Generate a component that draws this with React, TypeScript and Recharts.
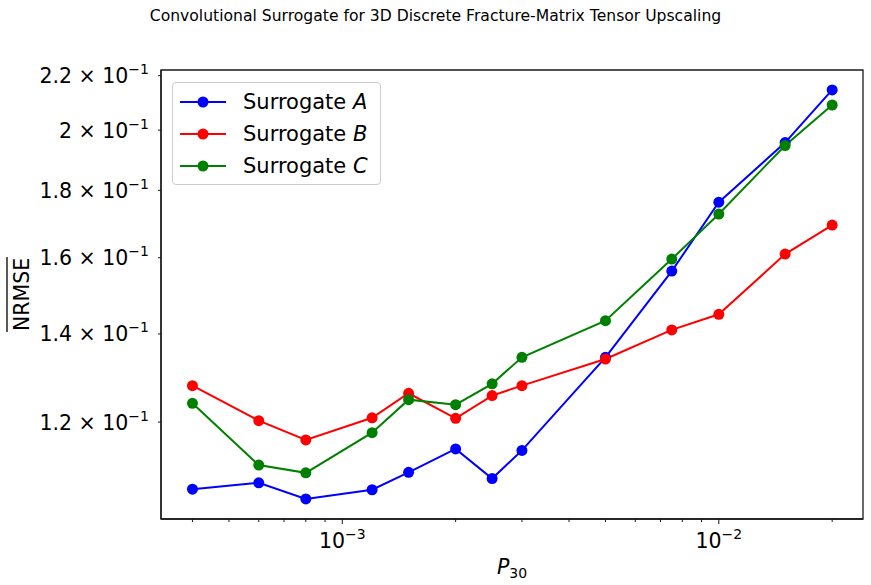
import { LineChart, Line, XAxis, YAxis, Legend, ReferenceArea } from "recharts";

// fracture intensity P30 sampled for each surrogate
const p30Values = [4e-4, 6e-4, 8e-4, 1.2e-3, 1.5e-3, 2e-3, 2.5e-3, 3e-3, 5e-3, 7.5e-3, 1e-2, 1.5e-2, 2e-2];

// mean NRMSE per surrogate
const surrogateA = [0.1067, 0.1079, 0.1049, 0.1066, 0.1099, 0.1145, 0.1087, 0.1142, 0.1344, 0.1563, 0.1763, 0.1957, 0.2146];
const surrogateB = [0.1279, 0.1203, 0.1163, 0.1209, 0.1262, 0.1208, 0.1257, 0.1279, 0.134, 0.141, 0.1449, 0.161, 0.1694];
const surrogateC = [0.124, 0.1113, 0.1098, 0.1178, 0.1248, 0.1237, 0.1283, 0.1344, 0.1433, 0.1596, 0.1727, 0.1947, 0.209];

const xMajorTicks = [1e-3, 1e-2];
const xMinorTicks = [4e-4, 5e-4, 6e-4, 7e-4, 8e-4, 9e-4, 2e-3, 3e-3, 4e-3, 5e-3, 6e-3, 7e-3, 8e-3, 9e-3, 2e-2];
const yTicks = [0.12, 0.14, 0.16, 0.18, 0.2, 0.22];

const xDomain = [3.3e-4, 0.02415];
const yDomain = [0.10128, 0.2222];

const series = [
  { key: "a", letter: "A", color: "#0000ff" },
  { key: "b", letter: "B", color: "#ff0000" },
  { key: "c", letter: "C", color: "#008000" },
];

const data = p30Values.map((p, i) => ({
  p30: p,
  a: surrogateA[i],
  b: surrogateB[i],
  c: surrogateC[i],
}));

const FONT = "DejaVu Sans, sans-serif";
const AXIS = "#1a1a1a";

function XTick({ x, y, payload }: any) {
  const major = xMajorTicks.includes(payload.value);
  const exp = Math.round(Math.log10(payload.value));
  return (
    <g>
      <line x1={x} x2={x} y1={y} y2={y + (major ? 5 : 3)} stroke={AXIS} strokeWidth={1} />
      {major && (
        <text x={x} y={y + 29} textAnchor="middle" fontSize={20.5} fontFamily={FONT} fill="#000">
          10
          <tspan dy={-9} fontSize={14}>
            {"\u2212" + Math.abs(exp)}
          </tspan>
        </text>
      )}
    </g>
  );
}

function YTick({ x, y, payload }: any) {
  const mantissa = Number((payload.value * 10).toFixed(1));
  return (
    <g>
      <line x1={x - 3} x2={x} y1={y} y2={y} stroke={AXIS} strokeWidth={1} />
      <text x={x - 12} y={y + 7.5} textAnchor="end" fontSize={20.5} fontFamily={FONT} fill="#000">
        {mantissa} × 10
        <tspan dy={-9} fontSize={14}>
          {"\u22121"}
        </tspan>
      </text>
    </g>
  );
}

function YLabel({ viewBox }: any) {
  const cx = 21;
  const cy = viewBox.y + viewBox.height / 2;
  return (
    <g transform={`rotate(-90 ${cx} ${cy})`}>
      <text x={cx} y={cy + 7.5} textAnchor="middle" fontSize={20.5} fontFamily={FONT} fill="#000">
        NRMSE
      </text>
      <line x1={cx - 37.5} x2={cx + 37.5} y1={cy - 14} y2={cy - 14} stroke="#000" strokeWidth={1.3} />
    </g>
  );
}

function XLabel({ viewBox }: any) {
  const cx = viewBox.x + viewBox.width / 2;
  return (
    <text x={cx} y={574} textAnchor="middle" fontSize={20.5} fontFamily={FONT} fill="#000">
      <tspan fontStyle="italic">P</tspan>
      <tspan dy={4} fontSize={14}>
        30
      </tspan>
    </text>
  );
}

function LegendBox() {
  return (
    <div
      style={{
        border: "1px solid #cccccc",
        borderRadius: 4,
        background: "rgba(255,255,255,0.8)",
        width: 209,
        height: 103,
        boxSizing: "border-box",
        padding: "3px 0 0 0",
        fontFamily: FONT,
        fontSize: 21,
      }}
    >
      {series.map((s) => (
        <div key={s.key} style={{ display: "flex", alignItems: "center", height: 32 }}>
          <svg width={70} height={32} style={{ flexShrink: 0 }}>
            <line x1={7} x2={53} y1={16} y2={16} stroke={s.color} strokeWidth={2} />
            <circle cx={30} cy={16} r={5.5} fill={s.color} />
          </svg>
          <span style={{ whiteSpace: "nowrap" }}>
            Surrogate <i>{s.letter}</i>
          </span>
        </div>
      ))}
    </div>
  );
}

export default function App() {
  return (
    <div style={{ position: "absolute", left: 0, top: 0, width: 871, height: 585, background: "#fff" }}>
      <div
        style={{
          position: "absolute",
          top: 7,
          left: 0,
          width: 871,
          textAlign: "center",
          fontFamily: FONT,
          fontSize: 15.6,
          color: "#000",
        }}
      >
        Convolutional Surrogate for 3D Discrete Fracture-Matrix Tensor Upscaling
      </div>
      <LineChart width={871} height={585} data={data} margin={{ top: 70, right: 8, bottom: 0, left: 0 }}>
        <XAxis
          dataKey="p30"
          type="number"
          scale="log"
          domain={xDomain}
          allowDataOverflow
          ticks={[...xMinorTicks, ...xMajorTicks].sort((p, q) => p - q)}
          interval={0}
          tick={<XTick />}
          tickLine={false}
          tickSize={0}
          tickMargin={0}
          height={66}
          axisLine={{ stroke: AXIS, strokeWidth: 1.3 }}
          label={<XLabel />}
        />
        <YAxis
          type="number"
          scale="log"
          domain={yDomain}
          allowDataOverflow
          ticks={yTicks}
          interval={0}
          tick={<YTick />}
          tickLine={false}
          tickSize={0}
          tickMargin={0}
          width={161}
          axisLine={{ stroke: AXIS, strokeWidth: 1.3 }}
          label={<YLabel />}
        />
        {/* frame around the plotting area */}
        <ReferenceArea
          x1={xDomain[0]}
          x2={xDomain[1]}
          y1={yDomain[0]}
          y2={yDomain[1]}
          fill="none"
          fillOpacity={0}
          stroke={AXIS}
          strokeWidth={1.3}
          ifOverflow="visible"
        />
        <Legend
          layout="vertical"
          align="center"
          verticalAlign="middle"
          content={<LegendBox />}
          wrapperStyle={{ left: 172, top: 82, width: 209, height: 103 }}
        />
        {series.map((s) => (
          <Line
            key={s.key}
            dataKey={s.key}
            name={`Surrogate ${s.letter}`}
            type="linear"
            stroke={s.color}
            strokeWidth={2}
            dot={{ r: 5.5, fill: s.color, stroke: s.color, strokeWidth: 0 }}
            activeDot={false}
            isAnimationActive={false}
          />
        ))}
      </LineChart>
    </div>
  );
}
